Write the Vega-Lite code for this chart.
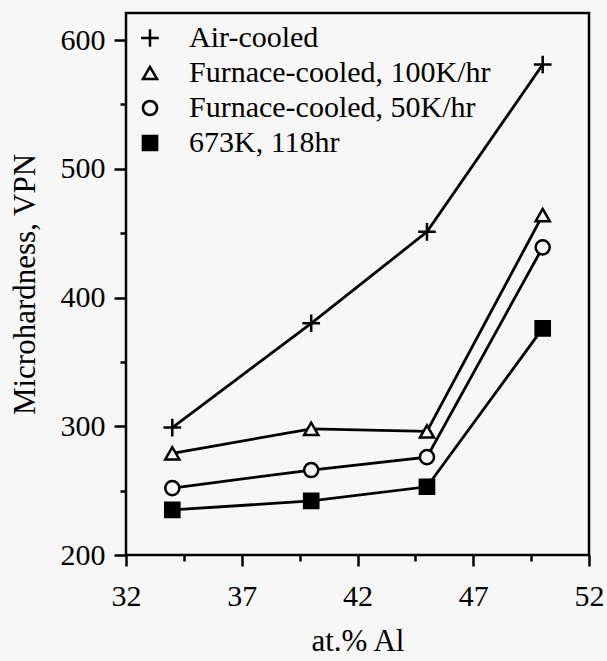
{
  "$schema": "https://vega.github.io/schema/vega-lite/v6.json",
  "width": 463,
  "height": 542,
  "autosize": {"type": "none"},
  "padding": {"left": 126, "top": 13, "right": 18, "bottom": 106},
  "background": "#f7f7f7",
  "config": {
    "view": {"stroke": "black", "strokeWidth": 2.5},
    "font": "Liberation Serif",
    "axis": {"domain": false, "grid": false, "labelFont": "Liberation Serif", "titleFont": "Liberation Serif", "labelColor": "black", "titleColor": "black", "tickColor": "black", "titleFontWeight": "normal", "labelFontSize": 30, "titleFontSize": 31},
    "legend": {"labelFont": "Liberation Serif", "labelFontSize": 30, "labelColor": "black", "labelLimit": 0}
  },
  "data": {"values": [
    {"al": 34, "vpn": 299, "s": "Air-cooled"},
    {"al": 40, "vpn": 380, "s": "Air-cooled"},
    {"al": 45, "vpn": 451, "s": "Air-cooled"},
    {"al": 50, "vpn": 581, "s": "Air-cooled"},
    {"al": 34, "vpn": 279, "s": "Furnace-cooled, 100K/hr"},
    {"al": 40, "vpn": 298, "s": "Furnace-cooled, 100K/hr"},
    {"al": 45, "vpn": 296, "s": "Furnace-cooled, 100K/hr"},
    {"al": 50, "vpn": 464, "s": "Furnace-cooled, 100K/hr"},
    {"al": 34, "vpn": 252, "s": "Furnace-cooled, 50K/hr"},
    {"al": 40, "vpn": 266, "s": "Furnace-cooled, 50K/hr"},
    {"al": 45, "vpn": 276, "s": "Furnace-cooled, 50K/hr"},
    {"al": 50, "vpn": 439, "s": "Furnace-cooled, 50K/hr"},
    {"al": 34, "vpn": 235, "s": "673K, 118hr"},
    {"al": 40, "vpn": 242, "s": "673K, 118hr"},
    {"al": 45, "vpn": 253, "s": "673K, 118hr"},
    {"al": 50, "vpn": 376, "s": "673K, 118hr"}
  ]},
  "encoding": {
    "x": {"field": "al", "type": "quantitative", "title": "at.% Al",
      "scale": {"domain": [32, 52], "nice": false, "zero": false},
      "axis": {"values": [32, 34.5, 37, 39.5, 42, 44.5, 47, 49.5, 52],
        "labelExpr": "datum.value % 5 == 2 ? datum.label : ''",
        "labelFontSize": 30, "labelFont": "Liberation Serif",
        "tickSize": {"condition": {"test": "datum.value % 5 != 2", "value": 6}, "value": 11},
        "tickWidth": 2.5, "labelPadding": 15, "labelFlush": false,
        "titleX": 231.5, "titleY": 86, "titleBaseline": "middle", "titleAlign": "center"}},
    "y": {"field": "vpn", "type": "quantitative", "title": "Microhardness, VPN",
      "scale": {"domain": [200, 621], "nice": false, "zero": false},
      "axis": {"values": [200, 250, 300, 350, 400, 450, 500, 550, 600],
        "labelExpr": "datum.value % 100 == 0 ? datum.label : ''",
        "labelFontSize": 30, "labelFont": "Liberation Serif",
        "tickSize": {"condition": {"test": "datum.value % 100 != 0", "value": 6}, "value": 12},
        "tickWidth": 2.5, "labelPadding": 9, "labelFlush": false,
        "titleX": -101, "titleY": 271, "titleAngle": -90, "titleBaseline": "middle", "titleAlign": "center"}}
  },
  "layer": [
    {"mark": {"type": "line", "color": "black", "strokeWidth": 2.8},
     "encoding": {"detail": {"field": "s"}}},
    {"mark": {"type": "point", "strokeWidth": 2.5, "opacity": 1, "size": 200},
     "encoding": {
       "shape": {"field": "s", "type": "nominal",
         "scale": {"domain": ["Air-cooled", "Furnace-cooled, 100K/hr", "Furnace-cooled, 50K/hr", "673K, 118hr"],
           "range": ["M-1.25,0H1.25M0,-1.25V1.25", "triangle-up", "circle", "square"]},
         "legend": {"title": null, "orient": "none", "legendX": 9, "legendY": 10, "symbolSize": 200, "symbolStrokeWidth": 2.5, "labelOffset": 24, "rowPadding": 5, "padding": 0}},
       "fill": {"field": "s", "type": "nominal",
         "scale": {"domain": ["Air-cooled", "Furnace-cooled, 100K/hr", "Furnace-cooled, 50K/hr", "673K, 118hr"],
           "range": ["#f7f7f7", "#f7f7f7", "#f7f7f7", "black"]},
         "legend": {"title": null, "orient": "none", "legendX": 9, "legendY": 10, "symbolSize": 200, "symbolStrokeWidth": 2.5, "labelOffset": 24, "rowPadding": 5, "padding": 0}},
       "stroke": {"field": "s", "type": "nominal",
         "scale": {"domain": ["Air-cooled", "Furnace-cooled, 100K/hr", "Furnace-cooled, 50K/hr", "673K, 118hr"],
           "range": ["black", "black", "black", "black"]},
         "legend": {"title": null, "orient": "none", "legendX": 9, "legendY": 10, "symbolSize": 200, "symbolStrokeWidth": 2.5, "labelOffset": 24, "rowPadding": 5, "padding": 0}}
     }}
  ]
}
